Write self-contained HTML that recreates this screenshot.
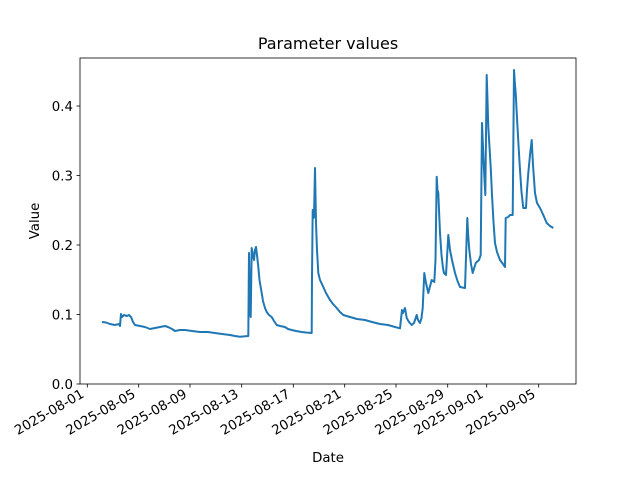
<!DOCTYPE html>
<html><head><style>body{margin:0;background:#fff}svg{display:block}</style></head><body>
<svg width="640" height="480" xmlns="http://www.w3.org/2000/svg" font-family="DejaVu Sans, sans-serif">
<rect width="640" height="480" fill="#fff"/>
<polyline fill="none" stroke="#1f77b4" stroke-width="2" stroke-linejoin="round" points="
102,322 106,322.5 110,324 115,325 119,324 120,326 121,314 122,317 124,315 127,316 129,315 131,317 133,322 135,325 140,326 145,327 150,329 155,328 160,327 165,326 168,327 172,329 175,331 180,330 185,330 192,331 200,332 208,332 215,333 222,334 230,335 235,336 240,336.7 248.3,336 249,253 250,310 250.7,317 251.7,248 253,255 254,260 255,250 256,247 257,255 258.3,267 259.5,280 261.7,293 263,301 265,308 266.7,312 269,315 271.7,317 274,321 276.7,325 280,326 285,327 288,329 291.7,330 296,331 301.7,332 306,332.5 311.7,333 312,277 312.7,210 313.5,218 314,217 315,168 316,223 317,250 318.3,273 320,280 323.3,287 326,293 330,300 333,304 336.7,308 340,312 343.3,315 350,317 357,319 365,320 372,322 380,324 388,325 395,327 400,328.3 402,310 403,313 405,308 406.7,318 409,322 411.7,325 414,323 416.7,315 418,320 420,323 421.5,318 422.7,308 424.3,273 426,283 428.3,293 431.7,280 434.3,282 435.5,260 436.7,176.7 437.5,190 438.3,193 439,210 440,233 441.5,255 443,268 444,273 446,275 448.3,235 450,250 452,260 455,273 457.5,281 460,287 465,288 467.3,218 468.2,235 469.3,250 471,264 472.7,273 475.7,263 479,260 480.7,255 482,123 483.5,160 485.3,195 486.7,75 487.5,100 488.3,127 490.7,167 492,195 493.5,222 495,243 497,252 500,260 503,264 505,267 505.7,218 508.3,217 510,215 512.7,215 514,70 515,85 515.7,93 517,118 518.5,145 520,170 521.5,192 523.3,208 526,208 527,190 528.3,173 530,155 531.7,140 533,165 535,193 537,203 540,208 543.3,215 546.7,223 550,226 553.3,228"/>
<rect x="80" y="58" width="496" height="326" fill="none" stroke="#000" stroke-width="0.8"/>
<g stroke="#000" stroke-width="0.8">
<line x1="80" y1="384" x2="76.5" y2="384"/><line x1="80" y1="314.5" x2="76.5" y2="314.5"/><line x1="80" y1="245" x2="76.5" y2="245"/><line x1="80" y1="175.5" x2="76.5" y2="175.5"/><line x1="80" y1="106" x2="76.5" y2="106"/>
<line x1="87.3" y1="384" x2="87.3" y2="387.5"/><line x1="138.7" y1="384" x2="138.7" y2="387.5"/><line x1="190" y1="384" x2="190" y2="387.5"/><line x1="241.7" y1="384" x2="241.7" y2="387.5"/><line x1="293.3" y1="384" x2="293.3" y2="387.5"/><line x1="344.7" y1="384" x2="344.7" y2="387.5"/><line x1="396" y1="384" x2="396" y2="387.5"/><line x1="447.7" y1="384" x2="447.7" y2="387.5"/><line x1="486.7" y1="384" x2="486.7" y2="387.5"/><line x1="538.7" y1="384" x2="538.7" y2="387.5"/>
</g>
<g font-size="13.33" text-anchor="end">
<text x="73" y="389">0.0</text><text x="73" y="319.5">0.1</text><text x="73" y="250">0.2</text><text x="73" y="180.5">0.3</text><text x="73" y="111">0.4</text>
</g>
<g font-size="13.33" text-anchor="end">
<text transform="translate(85,396.5) rotate(-30)">2025-08-01</text>
<text transform="translate(136.4,396.5) rotate(-30)">2025-08-05</text>
<text transform="translate(187.7,396.5) rotate(-30)">2025-08-09</text>
<text transform="translate(239.4,396.5) rotate(-30)">2025-08-13</text>
<text transform="translate(291,396.5) rotate(-30)">2025-08-17</text>
<text transform="translate(342.4,396.5) rotate(-30)">2025-08-21</text>
<text transform="translate(393.7,396.5) rotate(-30)">2025-08-25</text>
<text transform="translate(445.4,396.5) rotate(-30)">2025-08-29</text>
<text transform="translate(484.4,396.5) rotate(-30)">2025-09-01</text>
<text transform="translate(536.4,396.5) rotate(-30)">2025-09-05</text>
</g>
<text x="328" y="462" font-size="13.33" text-anchor="middle">Date</text>
<text transform="translate(39,221) rotate(-90)" font-size="13.33" text-anchor="middle">Value</text>
<text x="328" y="49" font-size="16" text-anchor="middle">Parameter values</text>
</svg>
</body></html>
